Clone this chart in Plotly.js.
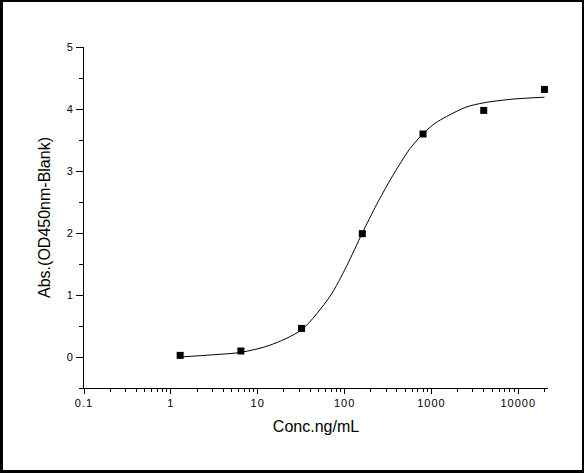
<!DOCTYPE html>
<html>
<head>
<meta charset="utf-8">
<script src="https://cdn.plot.ly/plotly-3.0.1.min.js"></script>
<style>
  html, body { margin: 0; padding: 0; background: #fff; }
  #wrap { position: relative; width: 584px; height: 473px; }
  #chart { width: 584px; height: 473px; }
  #frame { position: absolute; left: 0; top: 0; width: 584px; height: 473px;
           box-sizing: border-box; border-style: solid; border-color: #000;
           border-width: 2px 2px 3px 3px; pointer-events: none; }
  .xtick text, .ytick text { letter-spacing: 1px; }
</style>
</head>
<body>
<div id="wrap">
  <div id="chart"></div>
  <div id="frame"></div>
</div>
<script>
// Measured points (5-fold dilution series)
const concentrations = [1.28, 6.4, 32, 160, 800, 4000, 20000];
const absorbance     = [0.026, 0.097, 0.461, 1.989, 3.597, 3.977, 4.316];

// Fitted curve
const curveConc = [1.28, 3, 6.4, 13.8, 32, 68, 105, 160, 234, 333, 450, 565, 800, 1100, 1500, 2500, 4000, 8700, 20000];
const curveAbs  = [0.0, 0.035, 0.075, 0.19, 0.44, 0.98, 1.46, 2.0, 2.46, 2.85, 3.15, 3.36, 3.60, 3.77, 3.88, 4.03, 4.10, 4.16, 4.19];

// Tick labels
const xTickVals = [0.1, 1, 10, 100, 1000, 10000];
const xTickText = ['0.1', '1', '10', '100', '1000', '10000'];

const font = 'Arial, "Liberation Sans", sans-serif';

const traces = [
  {
    x: curveConc, y: curveAbs, type: 'scatter', mode: 'lines',
    line: { color: '#000', width: 1, shape: 'spline', smoothing: 0.8 },
    hoverinfo: 'skip', showlegend: false
  },
  {
    x: concentrations, y: absorbance, type: 'scatter', mode: 'markers',
    marker: { symbol: 'square', size: 7, color: '#000' },
    showlegend: false
  }
];

const layout = {
  width: 584, height: 473,
  margin: { l: 84, r: 36, t: 47, b: 85 },
  paper_bgcolor: '#fff', plot_bgcolor: '#fff',
  font: { family: font, color: '#000', size: 11 },
  showlegend: false,
  xaxis: {
    type: 'log', range: [-1, 4.342],
    tickmode: 'array', tickvals: xTickVals, ticktext: xTickText,
    ticks: 'outside', ticklen: 5, tickwidth: 1, tickcolor: '#000',
    minor: { dtick: 'D1', ticks: 'outside', ticklen: 3, tickwidth: 1, tickcolor: '#000' },
    showline: true, linecolor: '#000', linewidth: 1,
    showgrid: false, zeroline: false,
    tickfont: { family: font, size: 11, color: '#000' },
    title: { text: 'Conc.ng/mL', font: { family: font, size: 16, color: '#000' }, standoff: 12 }
  },
  yaxis: {
    range: [-0.5, 5], tick0: 0, dtick: 1,
    ticks: 'outside', ticklen: 7, tickwidth: 1, tickcolor: '#000',
    minor: { dtick: 0.5, ticks: 'outside', ticklen: 4, tickwidth: 1, tickcolor: '#000' },
    showline: true, linecolor: '#000', linewidth: 1,
    showgrid: false, zeroline: false,
    tickfont: { family: font, size: 11, color: '#000' },
    title: { text: 'Abs.(OD450nm-Blank)', font: { family: font, size: 16, color: '#000' }, standoff: 12 }
  }
};

Plotly.newPlot('chart', traces, layout, { displayModeBar: false, staticPlot: true });
</script>
</body>
</html>
